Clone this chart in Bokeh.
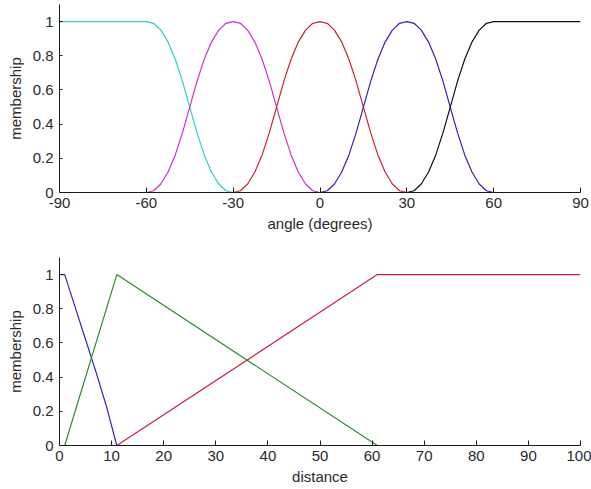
from bokeh.plotting import figure
from bokeh.layouts import column
from bokeh.models import Range1d, FixedTicker
from bokeh.embed import file_html
from bokeh.resources import INLINE

# ---- top panel: angle membership functions ----
angle_ticks = [-90, -60, -30, 0, 30, 60, 90]
angle_labels = ["-90", "-60", "-30", "0", "30", "60", "90"]
memb_ticks = [0, 0.2, 0.4, 0.6, 0.8, 1]
memb_labels = ["0", "0.2", "0.4", "0.6", "0.8", "1"]

cyan_x = [-90, -60, -57.5, -55, -52.5, -50, -47.5, -45, -42.5, -40, -37.5, -35, -32.5, -30]
cyan_y = [1, 1, 0.99, 0.95, 0.88, 0.78, 0.65, 0.5, 0.35, 0.22, 0.12, 0.05, 0.01, 0]

magenta_x = [-60, -57.5, -55, -52.5, -50, -47.5, -45, -42.5, -40, -37.5, -35, -32.5, -30,
             -27.5, -25, -22.5, -20, -17.5, -15, -12.5, -10, -7.5, -5, -2.5, 0]
magenta_y = [0, 0.01, 0.05, 0.12, 0.22, 0.35, 0.5, 0.65, 0.78, 0.88, 0.95, 0.99, 1,
             0.99, 0.95, 0.88, 0.78, 0.65, 0.5, 0.35, 0.22, 0.12, 0.05, 0.01, 0]

red_x = [-30, -27.5, -25, -22.5, -20, -17.5, -15, -12.5, -10, -7.5, -5, -2.5, 0,
         2.5, 5, 7.5, 10, 12.5, 15, 17.5, 20, 22.5, 25, 27.5, 30, 60]
red_y = [0, 0.01, 0.05, 0.12, 0.22, 0.35, 0.5, 0.65, 0.78, 0.88, 0.95, 0.99, 1,
         0.99, 0.95, 0.88, 0.78, 0.65, 0.5, 0.35, 0.22, 0.12, 0.05, 0.01, 0, 0]

blue_x = [0, 2.5, 5, 7.5, 10, 12.5, 15, 17.5, 20, 22.5, 25, 27.5, 30,
          32.5, 35, 37.5, 40, 42.5, 45, 47.5, 50, 52.5, 55, 57.5, 60, 90]
blue_y = [0, 0.01, 0.05, 0.12, 0.22, 0.35, 0.5, 0.65, 0.78, 0.88, 0.95, 0.99, 1,
          0.99, 0.95, 0.88, 0.78, 0.65, 0.5, 0.35, 0.22, 0.12, 0.05, 0.01, 0, 0]

black_x = [30, 32.5, 35, 37.5, 40, 42.5, 45, 47.5, 50, 52.5, 55, 57.5, 60, 90]
black_y = [0, 0.01, 0.05, 0.12, 0.22, 0.35, 0.5, 0.65, 0.78, 0.88, 0.95, 0.99, 1, 1]

# ---- bottom panel: distance membership functions ----
dist_ticks = [0, 10, 20, 30, 40, 50, 60, 70, 80, 90, 100]
dist_labels = ["0", "10", "20", "30", "40", "50", "60", "70", "80", "90", "100"]

near_x = [0, 1, 3, 5, 7, 9, 11, 100]
near_y = [1, 1, 0.81, 0.62, 0.43, 0.23, 0, 0]

mid_x = [0, 1, 11, 61, 100]
mid_y = [0, 0, 1, 0, 0]

far_x = [0, 11, 61, 100]
far_y = [0, 0, 1, 1]

FONT = "Liberation Sans"
TXT = "#2a2a2a"
AX = "#1a1a1a"


def style(p, xticks, xlabels, xlabel, ytick_in=3):
    p.outline_line_color = None
    p.background_fill_color = "white"
    p.border_fill_color = "white"
    p.xgrid.grid_line_color = None
    p.ygrid.grid_line_color = None
    p.xaxis.ticker = FixedTicker(ticks=xticks)
    p.xaxis.major_label_overrides = dict(zip(xticks, xlabels))
    p.yaxis.ticker = FixedTicker(ticks=memb_ticks)
    p.yaxis.major_label_overrides = dict(zip(memb_ticks, memb_labels))
    p.xaxis.axis_label = xlabel
    p.yaxis.axis_label = "membership"
    for ax in (p.xaxis, p.yaxis):
        ax.axis_line_color = AX
        ax.axis_line_width = 1
        ax.major_tick_line_color = AX
        ax.major_tick_out = 0
        ax.minor_tick_in = 0
        ax.minor_tick_out = 0
        ax.major_label_text_font = FONT
        ax.major_label_text_font_size = "15px"
        ax.major_label_text_color = TXT
        ax.axis_label_text_font = FONT
        ax.axis_label_text_font_size = "15px"
        ax.axis_label_text_font_style = "normal"
        ax.axis_label_text_color = TXT
    p.xaxis.major_tick_in = 5
    p.yaxis.major_tick_in = ytick_in
    p.xaxis.major_label_standoff = 5
    p.xaxis.axis_label_standoff = 4
    p.yaxis.major_label_standoff = 6
    p.yaxis.axis_label_standoff = 6


p1 = figure(width=591, height=240, x_range=Range1d(-90, 90), y_range=Range1d(0, 1.1),
            output_backend="svg", toolbar_location=None,
            min_border_left=59, min_border_right=10, min_border_top=4, min_border_bottom=48)
style(p1, angle_ticks, angle_labels, "angle (degrees)")
p1.line(cyan_x, cyan_y, line_color="#33cccc", line_width=1.2)
p1.line(magenta_x, magenta_y, line_color="#cc33cc", line_width=1.2)
p1.line(red_x, red_y, line_color="#cc2233", line_width=1.2)
p1.line(blue_x, blue_y, line_color="#2828b8", line_width=1.2)
p1.line(black_x, black_y, line_color="#111111", line_width=1.2)

p2 = figure(width=591, height=249, x_range=Range1d(0, 100), y_range=Range1d(0, 1.1),
            output_backend="svg", toolbar_location=None,
            min_border_left=59, min_border_right=11, min_border_top=17, min_border_bottom=44)
style(p2, dist_ticks, dist_labels, "distance")
p2.line(near_x, near_y, line_color="#2828c0", line_width=1.2)
p2.line(mid_x, mid_y, line_color="#2e8b2e", line_width=1.2)
p2.line(far_x, far_y, line_color="#cc2240", line_width=1.2)

layout = column(p1, p2, spacing=0)
open("out.html", "w").write(file_html(layout, INLINE))
